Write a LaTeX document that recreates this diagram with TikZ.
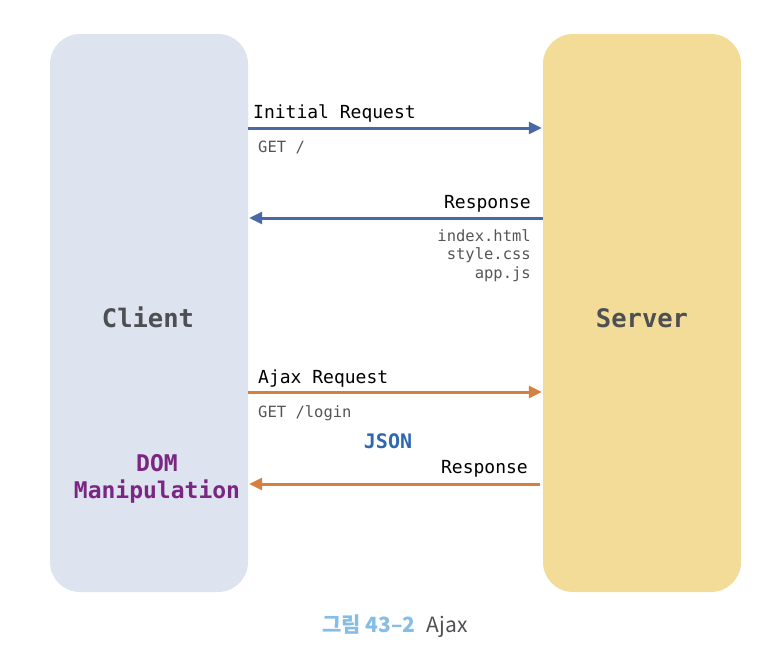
\documentclass[tikz,border=0pt]{standalone}
\usepackage{fontspec}
\setmainfont{Liberation Sans}
\setmonofont{DejaVu Sans Mono}
\newfontfamily\krfont{Noto Sans CJK KR}
\usepackage{tikz}
\usetikzlibrary{arrows.meta}
\definecolor{clientfill}{HTML}{DEE3F0}
\definecolor{serverfill}{HTML}{F3DC98}
\definecolor{reqblue}{HTML}{4A68A6}
\definecolor{ajaxorange}{HTML}{D6803F}
\definecolor{labelgray}{HTML}{4D4F52}
\definecolor{filegray}{HTML}{555555}
\definecolor{dompurple}{HTML}{7B2682}
\definecolor{jsonblue}{HTML}{2F68B0}
\definecolor{capblue}{HTML}{86BDE6}
\tikzstyle{party} = [rectangle, rounded corners=30pt, minimum width=198pt, minimum height=558pt, inner sep=0pt]
\tikzstyle{partytext} = [font=\ttfamily\bfseries\fontsize{25.5}{30}\selectfont, text=labelgray, anchor=base]
\tikzstyle{msg} = [font=\ttfamily\fontsize{18}{22}\selectfont, inner sep=0pt]
\tikzstyle{small} = [font=\ttfamily\fontsize{15.5}{18.5}\selectfont, text=filegray, inner sep=0pt]
\tikzstyle{bluearrow} = [line width=3pt, draw=reqblue, -{Triangle[length=13pt,width=12pt]}]
\tikzstyle{orangearrow} = [line width=3pt, draw=ajaxorange, -{Triangle[length=13pt,width=12pt]}]

\begin{document}
\begin{tikzpicture}[x=1pt, y=-1pt]
\useasboundingbox (0,0) rectangle (782,656);
\node(client) [party, fill=clientfill] at (149,313) {};
\node(server) [party, fill=serverfill] at (642,313) {};
\node(client_name) [partytext] at (148,327) {Client};
\node(server_name) [partytext] at (642,327) {Server};

% initial load
\coordinate (req) at (0,128);
\coordinate (res) at (0,218);
\draw[bluearrow] (client.east |- req) -- ([xshift=-1pt]server.west |- req);
\draw[bluearrow] (server.west |- res) -- ([xshift=1pt]client.east |- res);
\node(req_label) [msg, anchor=base west] at (253,118) {Initial Request};
\node(req_path) [small, anchor=base west] at (258,152) {GET /};
\node(res_label) [msg, anchor=base east] at (531,208) {Response};
\node(res_files) [small, anchor=north east, align=right] at (531,229) {index.html\\style.css\\app.js};

% ajax
\coordinate (ajax_req) at (0,392);
\coordinate (ajax_res) at (0,484);
\draw[orangearrow] (client.east |- ajax_req) -- ([xshift=-1pt]server.west |- ajax_req);
\draw[orangearrow] ([xshift=-3pt]server.west |- ajax_res) -- ([xshift=1pt]client.east |- ajax_res);
\node(ajax_label) [msg, anchor=base west] at (258,383) {Ajax Request};
\node(ajax_path) [small, anchor=base west] at (258,417) {GET /login};
\node(json) [font=\ttfamily\bfseries\fontsize{20}{24}\selectfont, text=jsonblue, anchor=base, inner sep=0pt] at (388,448) {JSON};
\node(ajax_res_label) [msg, anchor=base east] at (528,473) {Response};
\node(dom) [font=\ttfamily\bfseries\fontsize{23}{26.5}\selectfont, text=dompurple, align=center, anchor=base, inner sep=0pt] at (157,498) {DOM\\Manipulation};

\node(caption) [anchor=base, inner sep=0pt] at (395,632) {\krfont\fontsize{21}{24}\selectfont\textcolor{capblue}{\bfseries 그림 43–2}\hspace{11pt}\textcolor{labelgray}{Ajax}};
\end{tikzpicture}
\end{document}
